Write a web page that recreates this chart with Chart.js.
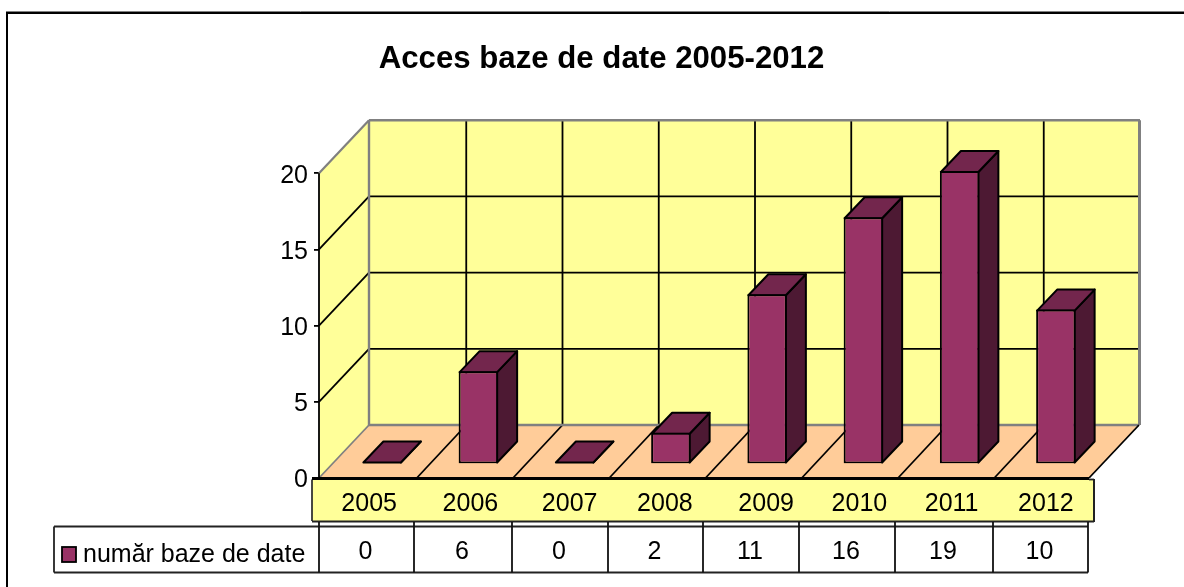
<!DOCTYPE html>
<html>
<head>
<meta charset="utf-8">
<style>
html,body{margin:0;padding:0;background:#fff;overflow:hidden}
#wrap{position:relative;width:1184px;height:587px}
</style>
<script src="https://cdn.jsdelivr.net/npm/chart.js@4"></script>
</head>
<body>
<div id="wrap"><canvas id="c" width="1184" height="587"></canvas></div>
<script>
const titleText = 'Acces baze de date 2005-2012';
const seriesName = 'număr baze de date';
const categories = ['2005','2006','2007','2008','2009','2010','2011','2012'];
const values = [0,6,0,2,11,16,19,10];
const yTicks = [0,5,10,15,20];

const FONT = '"Liberation Sans", Arial, sans-serif';
const DEPTH = {x:50, y:-53};          // wall depth of the 3D box
const BAR_SHIFT = {x:15, y:-14.5};    // bars stand inside the floor
const BAR_DEPTH = {x:20, y:-21};
const C = {wall:'#FFFF99', floor:'#FFCC99', grey:'#808080', front:'#993366', top:'#73264D', side:'#4D1933', ink:'#000'};
// Layout of the band and data table below the plot
const tableCols = [319,414,512,608,703,799,895,993,1088];
const bandNudge = [2,7,10,9,14,11,7,5];
const GRID_W = 1.8, BAR_W = 2;

function line(ctx,x1,y1,x2,y2,color,w){
  ctx.beginPath();ctx.moveTo(x1,y1);ctx.lineTo(x2,y2);
  ctx.strokeStyle=color;ctx.lineWidth=w;ctx.stroke();
}
function poly(ctx,pts,fill,stroke,w){
  ctx.beginPath();ctx.moveTo(pts[0][0],pts[0][1]);
  pts.slice(1).forEach(p=>ctx.lineTo(p[0],p[1]));ctx.closePath();
  if(fill){ctx.fillStyle=fill;ctx.fill();}
  if(stroke){ctx.strokeStyle=stroke;ctx.lineWidth=w;ctx.lineJoin='round';ctx.stroke();}
}

const box3d = {
  id:'box3d',
  afterLayout(chart){
    const t=chart.titleBlock;
    if(t){t.left=0;t.right=1203;}
  },
  beforeDatasetsDraw(chart){
    const {ctx,chartArea:a,scales:{x,y}}=chart;
    const dx=DEPTH.x, dy=DEPTH.y;
    ctx.save();
    // outer frame (left and top edges only)
    line(ctx,6,11.5,1184,11.5,C.grey,1);
    ctx.fillStyle='#000';ctx.fillRect(6,12,1178,2);ctx.fillRect(6,12,2,575);
    // walls and floor
    poly(ctx,[[a.left,a.top],[a.left+dx,a.top+dy],[a.left+dx,a.bottom+dy],[a.left,a.bottom]],C.wall);
    poly(ctx,[[a.left+dx,a.top+dy],[a.right+dx,a.top+dy],[a.right+dx,a.bottom+dy],[a.left+dx,a.bottom+dy]],C.wall);
    poly(ctx,[[a.left,a.bottom],[a.left+dx,a.bottom+dy],[a.right+dx,a.bottom+dy],[a.right,a.bottom]],C.floor);
    // horizontal gridlines on side and back walls
    yTicks.forEach(v=>{
      if(v===0||v===20)return;
      const p=y.getPixelForValue(v);
      line(ctx,a.left,p,a.left+dx,p+dy,C.ink,GRID_W);
      line(ctx,a.left+dx,p+dy,a.right+dx,p+dy,C.ink,GRID_W);
    });
    // vertical gridlines and floor separators
    const cw=(a.right-a.left)/categories.length;
    for(let i=1;i<categories.length;i++){
      const px=x.getPixelForValue(i)-cw/2;
      line(ctx,px+dx+1,a.top+dy,px+dx+1,a.bottom+dy,C.ink,GRID_W);
      line(ctx,px+1.5,a.bottom,px+dx+1,a.bottom+dy,C.ink,GRID_W);
    }
    // box edges
    line(ctx,a.left+dx,a.top+dy,a.right+dx+1,a.top+dy,C.grey,2.4);
    line(ctx,a.left+dx,a.top+dy,a.left+dx,a.bottom+dy,C.grey,2.4);
    line(ctx,a.right+dx+.5,a.top+dy,a.right+dx+.5,a.bottom+dy,C.grey,3);
    line(ctx,a.left+dx,a.bottom+dy,a.right+dx,a.bottom+dy,C.grey,2.4);
    line(ctx,a.left,a.top,a.left+dx,a.top+dy,C.grey,2.2);
    line(ctx,a.left,a.bottom,a.left+dx,a.bottom+dy,C.grey,1.8);
    line(ctx,a.right,a.bottom,a.right+dx,a.bottom+dy,C.ink,GRID_W);
    line(ctx,a.left,a.top,a.left,a.bottom,C.ink,GRID_W);
    // 3D sides of the bars
    const bars=chart.getDatasetMeta(0).data;
    ctx.translate(BAR_SHIFT.x,BAR_SHIFT.y);
    const bw=BAR_DEPTH.x, bd=BAR_DEPTH.y;
    bars.forEach(b=>{
      const L=b.x-b.width/2+1,R=b.x+b.width/2-1,B=b.base-1,T=Math.min(b.y+1,B);
      poly(ctx,[[R,T],[R+bw,T+bd],[R+bw,B+bd],[R,B]],C.side,C.ink,BAR_W);
      poly(ctx,[[L,T],[L+bw,T+bd],[R+bw,T+bd],[R,T]],C.top,C.ink,BAR_W);
    });
    // keep the translation for the library's own bar fronts
  },
  afterDatasetsDraw(chart){
    chart.ctx.restore();
  },
  afterDraw(chart){
    const {ctx,scales:{x}}=chart;
    ctx.save();
    // category band
    ctx.fillStyle=C.wall;ctx.fillRect(312,479,782,42);
    line(ctx,312,479.5,312,521,'#333',1.8);
    line(ctx,1094,479,1094,522,'#222',2);
    line(ctx,312,521.5,1094,521.5,'#222',2);
    line(ctx,1089,479.5,1094,479.5,'#222',1.8);
    ctx.fillStyle='#000';ctx.fillRect(312,477,777,3);
    ctx.font='25px '+FONT;ctx.textAlign='center';ctx.textBaseline='alphabetic';ctx.fillStyle='#000';
    categories.forEach((c,i)=>ctx.fillText(c,x.getPixelForValue(i)+bandNudge[i],511));
    // data table
    const top=526.5,bot=572.5;
    line(ctx,54,top,1088,top,'#222',1.8);
    line(ctx,54,bot,1088,bot,'#222',1.8);
    line(ctx,54,top,54,bot,'#222',1.8);
    tableCols.forEach(cx=>line(ctx,cx,522,cx,bot,'#111',1.8));
    values.forEach((v,i)=>ctx.fillText(String(v),(tableCols[i]+tableCols[i+1])/2-1,559));
    // legend key inside the table
    ctx.fillStyle=C.front;ctx.fillRect(62,547,14,15);
    ctx.strokeStyle='#000';ctx.lineWidth=1.8;ctx.strokeRect(62,547,14,15);
    ctx.textAlign='left';ctx.fillStyle='#000';
    ctx.fillText(seriesName,83,562);
    ctx.restore();
  }
};

new Chart(document.getElementById('c'),{
  type:'bar',
  data:{labels:categories,datasets:[{
    label:seriesName,data:values,yAxisID:'yBars',backgroundColor:C.front,borderColor:C.ink,borderWidth:BAR_W,
    borderSkipped:false,barPercentage:1,categoryPercentage:39.5/96.25
  }]},
  plugins:[box3d],
  options:{
    responsive:false,animation:false,
    layout:{padding:{left:0,right:95,top:0,bottom:0}},
    plugins:{
      legend:{display:false},tooltip:{enabled:false},
      title:{display:true,text:titleText,color:'#000',
        font:{family:FONT,size:31.2,weight:'bold',lineHeight:1.2},
        padding:{top:40.5,bottom:95.3}}
    },
    scales:{
      x:{offset:true,grid:{display:false},border:{display:false},ticks:{display:false},
        afterFit(s){s.height=109;}},
      // bars sit further back in the 3D box, which stretches them slightly against the front axis
      yBars:{display:false,min:0,max:19.8},
      y:{min:0,max:20,
        afterBuildTicks(s){s.ticks=yTicks.map(v=>({value:v}));},
        afterFit(s){s.width=319;},
        grid:{drawOnChartArea:false,drawTicks:true,tickLength:5,color:'#000',lineWidth:1.8},
        border:{display:false},
        ticks:{color:'#000',padding:6,labelOffset:2.5,font:{family:FONT,size:25}}}
    }
  }
});
</script>
</body>
</html>
